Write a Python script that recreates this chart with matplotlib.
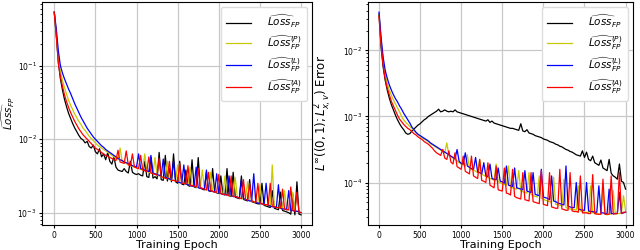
import numpy as np
import matplotlib
matplotlib.use("Agg")
import matplotlib.pyplot as plt

# ========== data (log10 of the plotted values) ==========
epochs = list(range(0, 3001, 25))

labels = [r'$\widehat{Loss}_{FP}$', r'$\widehat{Loss}_{FP}^{(P)}$',
          r'$\widehat{Loss}_{FP}^{(L)}$', r'$\widehat{Loss}_{FP}^{(A)}$']
colors = ['black', '#c8c800', '#0000ff', '#ff0000']

# left panel: training loss
left_black = [
    -0.27, -0.6, -0.95, -1.18, -1.33, -1.46, -1.56, -1.65, -1.72, -1.79,
    -1.85, -1.9, -1.95, -1.99, -2.01, -2.05, -2.03, -2.1, -2.12, -2.08,
    -2.17, -2.2, -2.13, -2.24, -2.2, -2.28, -2.18, -2.3, -2.34, -2.24,
    -2.38, -2.42, -2.43, -2.44, -2.4, -2.44, -2.46, -2.3, -2.45, -2.47,
    -2.48, -2.47, -2.49, -2.5, -2.3, -2.51, -2.52, -2.25, -2.53, -2.51,
    -2.54, -2.18, -2.55, -2.56, -2.22, -2.57, -2.4, -2.58, -2.2, -2.58,
    -2.6, -2.3, -2.61, -2.62, -2.42, -2.63, -2.64, -2.28, -2.65, -2.66,
    -2.25, -2.66, -2.68, -2.69, -2.45, -2.7, -2.71, -2.4, -2.72, -2.73,
    -2.74, -2.5, -2.75, -2.76, -2.4, -2.77, -2.78, -2.45, -2.79, -2.8,
    -2.81, -2.5, -2.82, -2.83, -2.84, -2.55, -2.85, -2.86, -2.87, -2.88,
    -2.88, -2.6, -2.9, -2.91, -2.92, -2.93, -2.7, -2.94, -2.95, -2.96,
    -2.72, -2.97, -2.98, -2.99, -3.0, -3.02, -2.75, -3.03, -2.58, -3.02,
    -3.03]
left_yellow = [
    -0.27, -0.55, -0.9, -1.08, -1.2, -1.3, -1.39, -1.47, -1.54, -1.6,
    -1.66, -1.71, -1.76, -1.8, -1.85, -1.88, -1.92, -1.96, -1.99, -2.02,
    -2.05, -2.08, -2.1, -2.12, -2.14, -2.16, -2.18, -2.2, -2.22, -2.24,
    -2.26, -2.28, -2.12, -2.3, -2.31, -2.33, -2.35, -2.36, -2.37, -2.38,
    -2.39, -2.4, -2.41, -2.42, -2.2, -2.44, -2.45, -2.46, -2.47, -2.25,
    -2.49, -2.5, -2.51, -2.52, -2.53, -2.3, -2.55, -2.56, -2.56, -2.57,
    -2.35, -2.59, -2.6, -2.6, -2.61, -2.62, -2.38, -2.63, -2.64, -2.65,
    -2.66, -2.66, -2.42, -2.68, -2.69, -2.69, -2.45, -2.71, -2.72, -2.72,
    -2.73, -2.74, -2.75, -2.5, -2.76, -2.77, -2.77, -2.78, -2.52, -2.79,
    -2.8, -2.81, -2.81, -2.82, -2.58, -2.84, -2.84, -2.85, -2.86, -2.86,
    -2.62, -2.88, -2.89, -2.89, -2.9, -2.91, -2.35, -2.92, -2.93, -2.93,
    -2.94, -2.95, -2.7, -2.96, -2.96, -2.97, -2.72, -2.98, -2.98, -2.99,
    -3.0]
left_blue = [
    -0.27, -0.5, -0.8, -1.0, -1.1, -1.18, -1.25, -1.32, -1.38, -1.45,
    -1.52, -1.58, -1.64, -1.7, -1.75, -1.8, -1.85, -1.89, -1.93, -1.97,
    -2.0, -2.03, -2.06, -2.09, -2.11, -2.14, -2.16, -2.18, -2.2, -2.22,
    -2.24, -2.26, -2.28, -2.29, -2.31, -2.32, -2.33, -2.35, -2.36, -2.37,
    -2.38, -2.2, -2.4, -2.41, -2.42, -2.43, -2.44, -2.22, -2.46, -2.47,
    -2.48, -2.49, -2.5, -2.27, -2.52, -2.53, -2.54, -2.55, -2.3, -2.57,
    -2.58, -2.59, -2.6, -2.35, -2.61, -2.62, -2.63, -2.64, -2.64, -2.38,
    -2.66, -2.67, -2.67, -2.68, -2.42, -2.7, -2.7, -2.71, -2.72, -2.47,
    -2.73, -2.74, -2.75, -2.75, -2.76, -2.5, -2.77, -2.78, -2.78, -2.79,
    -2.8, -2.55, -2.81, -2.82, -2.83, -2.84, -2.84, -2.47, -2.86, -2.87,
    -2.87, -2.88, -2.89, -2.6, -2.9, -2.91, -2.92, -2.92, -2.93, -2.62,
    -2.94, -2.95, -2.95, -2.96, -2.7, -2.97, -2.97, -2.98, -2.98, -2.99,
    -3.0]
left_red = [
    -0.27, -0.58, -0.97, -1.15, -1.28, -1.4, -1.49, -1.57, -1.64, -1.7,
    -1.76, -1.81, -1.86, -1.9, -1.94, -1.97, -2.0, -2.03, -2.06, -2.09,
    -2.12, -2.14, -2.16, -2.18, -2.2, -2.22, -2.23, -2.25, -2.26, -2.28,
    -2.29, -2.15, -2.31, -2.32, -2.33, -2.16, -2.35, -2.36, -2.2, -2.38,
    -2.39, -2.4, -2.22, -2.42, -2.43, -2.44, -2.24, -2.46, -2.47, -2.48,
    -2.49, -2.26, -2.51, -2.52, -2.53, -2.54, -2.3, -2.56, -2.56, -2.57,
    -2.58, -2.33, -2.6, -2.6, -2.61, -2.36, -2.63, -2.63, -2.64, -2.65,
    -2.4, -2.66, -2.67, -2.68, -2.69, -2.45, -2.7, -2.71, -2.72, -2.72,
    -2.48, -2.74, -2.75, -2.75, -2.76, -2.77, -2.5, -2.78, -2.78, -2.79,
    -2.8, -2.81, -2.55, -2.82, -2.83, -2.6, -2.84, -2.85, -2.86, -2.6,
    -2.87, -2.88, -2.89, -2.89, -2.9, -2.6, -2.91, -2.92, -2.93, -2.93,
    -2.94, -2.68, -2.95, -2.96, -2.96, -2.65, -2.97, -2.98, -2.72, -2.99,
    -3.0]

# right panel: L^inf((0,1); L^2) error
right_black = [
    -1.45, -1.95, -2.25, -2.45, -2.6, -2.72, -2.82, -2.9, -2.98, -3.05,
    -3.11, -3.16, -3.2, -3.25, -3.27, -3.26, -3.22, -3.19, -3.16, -3.13,
    -3.11, -3.08, -3.05, -3.03, -3.0, -2.98, -2.96, -2.94, -2.92, -2.89,
    -2.93, -2.92, -2.9, -2.92, -2.93, -2.92, -2.93, -2.9, -2.93, -2.94,
    -2.95, -2.96, -2.97, -2.98, -2.99, -3.0, -3.01, -3.02, -3.03, -3.04,
    -3.05, -3.06, -3.07, -3.05, -3.09, -3.07, -3.1, -3.11, -3.12, -3.13,
    -3.14, -3.15, -3.16, -3.17, -3.18, -3.18, -3.19, -3.2, -3.21, -3.11,
    -3.22, -3.23, -3.2, -3.25, -3.26, -3.27, -3.29, -3.3, -3.31, -3.32,
    -3.34, -3.35, -3.36, -3.38, -3.39, -3.4, -3.42, -3.43, -3.45, -3.46,
    -3.48, -3.5, -3.51, -3.53, -3.54, -3.56, -3.58, -3.59, -3.6, -3.52,
    -3.62, -3.54, -3.65, -3.67, -3.6, -3.7, -3.72, -3.74, -3.66, -3.78,
    -3.8, -3.82, -3.65, -3.86, -3.9, -3.92, -3.95, -3.72, -3.98, -4.0,
    -4.1]
right_yellow = [
    -1.45, -1.85, -2.15, -2.36, -2.5, -2.6, -2.68, -2.75, -2.81, -2.87,
    -2.93, -3.0, -3.05, -3.09, -3.12, -3.15, -3.18, -3.21, -3.24, -3.27,
    -3.3, -3.32, -3.34, -3.36, -3.38, -3.41, -3.43, -3.45, -3.47, -3.49,
    -3.51, -3.53, -3.55, -3.4, -3.59, -3.61, -3.63, -3.65, -3.67, -3.7,
    -3.72, -3.73, -3.75, -3.58, -3.78, -3.8, -3.81, -3.83, -3.85, -3.65,
    -3.88, -3.89, -3.91, -3.92, -3.94, -3.95, -3.97, -3.72, -3.99, -4.0,
    -4.02, -4.03, -4.04, -3.75, -4.07, -4.08, -4.09, -4.1, -3.82, -4.13,
    -4.14, -4.15, -4.16, -3.85, -4.18, -4.2, -4.21, -4.22, -3.9, -4.24,
    -4.25, -4.27, -4.28, -4.29, -4.3, -3.92, -4.33, -4.34, -4.34, -4.36,
    -3.95, -4.38, -4.39, -4.4, -4.41, -4.41, -4.42, -4.05, -4.43, -4.44,
    -4.45, -4.45, -4.46, -4.05, -4.46, -4.47, -4.47, -4.48, -4.48, -4.1,
    -4.48, -4.49, -4.48, -4.48, -4.12, -4.48, -4.47, -4.47, -4.46, -4.2,
    -4.43]
right_blue = [
    -1.42, -1.8, -2.1, -2.3, -2.42, -2.52, -2.6, -2.67, -2.73, -2.78,
    -2.84, -2.89, -2.95, -3.0, -3.05, -3.1, -3.16, -3.2, -3.24, -3.27,
    -3.29, -3.31, -3.33, -3.35, -3.37, -3.4, -3.42, -3.44, -3.46, -3.48,
    -3.5, -3.52, -3.54, -3.56, -3.58, -3.6, -3.62, -3.64, -3.5, -3.68,
    -3.71, -3.72, -3.55, -3.75, -3.77, -3.79, -3.8, -3.62, -3.84, -3.85,
    -3.87, -3.7, -3.9, -3.91, -3.72, -3.94, -3.95, -3.96, -3.78, -3.98,
    -3.99, -4.01, -3.75, -4.04, -4.05, -4.06, -3.78, -4.08, -4.09, -4.1,
    -4.11, -3.82, -4.13, -4.14, -4.15, -3.85, -4.18, -4.19, -4.2, -3.8,
    -4.22, -4.23, -4.24, -4.26, -3.9, -4.28, -4.29, -4.31, -4.32, -4.33,
    -4.34, -3.75, -4.36, -4.37, -4.38, -4.38, -4.0, -4.4, -4.41, -4.42,
    -4.42, -4.0, -4.43, -4.44, -4.44, -4.45, -4.45, -4.05, -4.46, -4.46,
    -4.47, -4.47, -4.1, -4.47, -4.47, -4.47, -4.47, -4.15, -4.47, -4.46,
    -4.45]
right_red = [
    -1.48, -1.9, -2.22, -2.43, -2.57, -2.67, -2.77, -2.84, -2.91, -2.98,
    -3.04, -3.08, -3.12, -3.15, -3.18, -3.2, -3.23, -3.26, -3.28, -3.31,
    -3.33, -3.35, -3.38, -3.4, -3.42, -3.45, -3.48, -3.52, -3.55, -3.57,
    -3.59, -3.5, -3.63, -3.65, -3.52, -3.69, -3.72, -3.55, -3.76, -3.78,
    -3.8, -3.6, -3.83, -3.85, -3.87, -3.6, -3.9, -3.92, -3.94, -3.65,
    -3.97, -3.98, -4.0, -3.7, -4.04, -4.06, -4.08, -3.75, -4.11, -4.12,
    -4.13, -3.78, -4.16, -4.17, -4.19, -3.8, -4.21, -4.23, -4.24, -4.25,
    -3.85, -4.26, -4.27, -4.28, -3.85, -4.29, -4.3, -4.31, -4.32, -3.82,
    -4.33, -4.34, -4.35, -3.85, -4.37, -4.38, -4.39, -4.39, -3.8, -4.4,
    -4.41, -4.42, -4.42, -3.85, -4.43, -4.44, -4.44, -4.45, -3.9, -4.46,
    -4.46, -4.46, -4.47, -4.47, -3.88, -4.47, -4.48, -4.48, -4.48, -3.95,
    -4.48, -4.48, -4.48, -3.9, -4.48, -4.47, -4.47, -3.85, -4.47, -4.45,
    -4.45]

# ========== figure ==========
fig = plt.figure(figsize=(6.4, 2.5), dpi=100)
ax_l = fig.add_axes([0.066, 0.1, 0.422, 0.892])
ax_r = fig.add_axes([0.575, 0.1, 0.414, 0.892])

panels = [
    (ax_l, [left_black, left_yellow, left_blue, left_red],
     r'$\widehat{Loss}_{FP}$', (-146, 3137), -0.095, 7.5),
    (ax_r, [right_black, right_yellow, right_blue, right_red],
     r'$L^{\infty}((0,1);L^2_{x,v})$ Error', (-134, 3090), -0.13, 8.5),
]

for ax, series, ylab, xlim, ylab_x, ylab_fs in panels:
    for vals, c, lab in zip(series, colors, labels):
        ax.plot(epochs, 10 ** np.array(vals), color=c, lw=0.9, label=lab)
    ax.set_yscale('log')
    ax.set_xlim(*xlim)
    ax.set_xticks([0, 500, 1000, 1500, 2000, 2500, 3000])
    ax.tick_params(labelsize=5.5, length=2.5, pad=1.5)
    ax.tick_params(which='minor', length=1.5)
    ax.grid(True, which='major', color='#c8c8c8', lw=0.9)
    ax.set_axisbelow(True)
    ax.set_xlabel('Training Epoch', fontsize=8, labelpad=0)
    ax.set_ylabel(ylab, fontsize=ylab_fs)
    ax.yaxis.set_label_coords(ylab_x, 0.5)
    for s in ax.spines.values():
        s.set_linewidth(0.8)
    ax.legend(loc='upper right', fontsize=7.5, handlelength=2.4,
              labelspacing=0.3, borderpad=0.5, handletextpad=1.5,
              framealpha=1.0, edgecolor='#dddddd')

fig.savefig('out.png', dpi=100)
